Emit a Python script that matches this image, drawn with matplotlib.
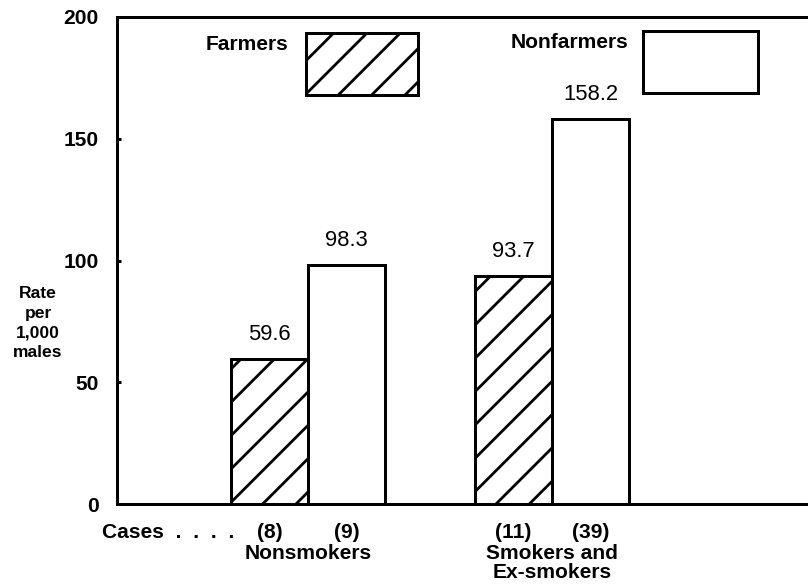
import matplotlib
matplotlib.use("Agg")
import matplotlib.pyplot as plt
from matplotlib.patches import Rectangle
from matplotlib.transforms import blended_transform_factory
import numpy as np

# ---- data ----
groups = ["Nonsmokers", "Smokers and\nEx-smokers"]
series = ["Farmers", "Nonfarmers"]
farmers = [59.6, 93.7]
nonfarmers = [98.3, 158.2]
cases_farmers = ["(8)", "(11)"]
cases_nonfarmers = ["(9)", "(39)"]
yticks = [0, 50, 100, 150, 200]

# ---- figure setup ----
W, H = 808, 585
D = 200
plt.rcParams['font.family'] = ['Liberation Sans', 'DejaVu Sans']
plt.rcParams['hatch.linewidth'] = 1.0

def pt(px):
    return px * 72.0 / D

def fx(x):
    return x / W

def fy(y):
    return 1 - y / H

fig = plt.figure(figsize=(W / D, H / D), dpi=D)
ax = fig.add_axes([fx(117), fy(504), fx(808) - fx(117), fy(17) - fy(504)])

x = np.arange(len(groups))
w = 0.316
lw = pt(3)
b1 = ax.bar(x - w / 2, farmers, w, facecolor='white', edgecolor='black',
            hatch='//', linewidth=lw, zorder=3)
b2 = ax.bar(x + w / 2, nonfarmers, w, facecolor='white', edgecolor='black',
            linewidth=lw, zorder=3)

ax.set_xlim(-(308 - 117) / 244, (808 - 308) / 244)
ax.set_ylim(0, 200)
ax.set_yticks(yticks)
ax.set_yticklabels([str(t) for t in yticks], fontsize=pt(21), fontweight='bold')
ax.tick_params(axis='y', direction='in', length=pt(4), width=lw, pad=pt(18))
ax.set_xticks([])
for s in ['left', 'top', 'bottom']:
    ax.spines[s].set_linewidth(lw)
ax.spines['right'].set_visible(False)

# value labels
for bars, vals in [(b1, farmers), (b2, nonfarmers)]:
    for r, v in zip(bars, vals):
        ax.annotate(f"{v:.1f}", (r.get_x() + r.get_width() / 2, r.get_height()),
                    xytext=(0, pt(24)), textcoords='offset points',
                    ha='center', va='center', fontsize=pt(22))

# case counts and group names (x in data, y in figure)
bt = blended_transform_factory(ax.transData, fig.transFigure)
for i in range(len(groups)):
    ax.text(x[i] - w / 2, fy(532), cases_farmers[i], transform=bt,
            ha='center', va='center', fontsize=pt(21), fontweight='bold')
    ax.text(x[i] + w / 2, fy(532), cases_nonfarmers[i], transform=bt,
            ha='center', va='center', fontsize=pt(21), fontweight='bold')
    ax.text(x[i], fy(544), groups[i], transform=bt, ha='center', va='top',
            fontsize=pt(21), fontweight='bold', linespacing=1.0)

fig.text(fx(102), fy(532), "Cases  .  .  .  .", ha='left', va='center',
         fontsize=pt(21), fontweight='bold')

fig.text(fx(38), fy(323), "Rate\nper\n1,000\nmales", ha='center', va='center',
         fontsize=pt(17.5), fontweight='bold', linespacing=1.4)

# legend
fig.patches.append(Rectangle((fx(306), fy(95)), fx(418) - fx(306), fy(33) - fy(95),
                             transform=fig.transFigure, facecolor='white',
                             edgecolor='black', hatch='//', linewidth=lw))
fig.patches.append(Rectangle((fx(643), fy(93)), fx(758) - fx(643), fy(31) - fy(93),
                             transform=fig.transFigure, facecolor='white',
                             edgecolor='black', linewidth=lw))
fig.text(fx(288), fy(45), series[0], ha='right', va='center',
         fontsize=pt(21), fontweight='bold')
fig.text(fx(628), fy(43), series[1], ha='right', va='center',
         fontsize=pt(21), fontweight='bold')

fig.savefig("out.png", dpi=D)
